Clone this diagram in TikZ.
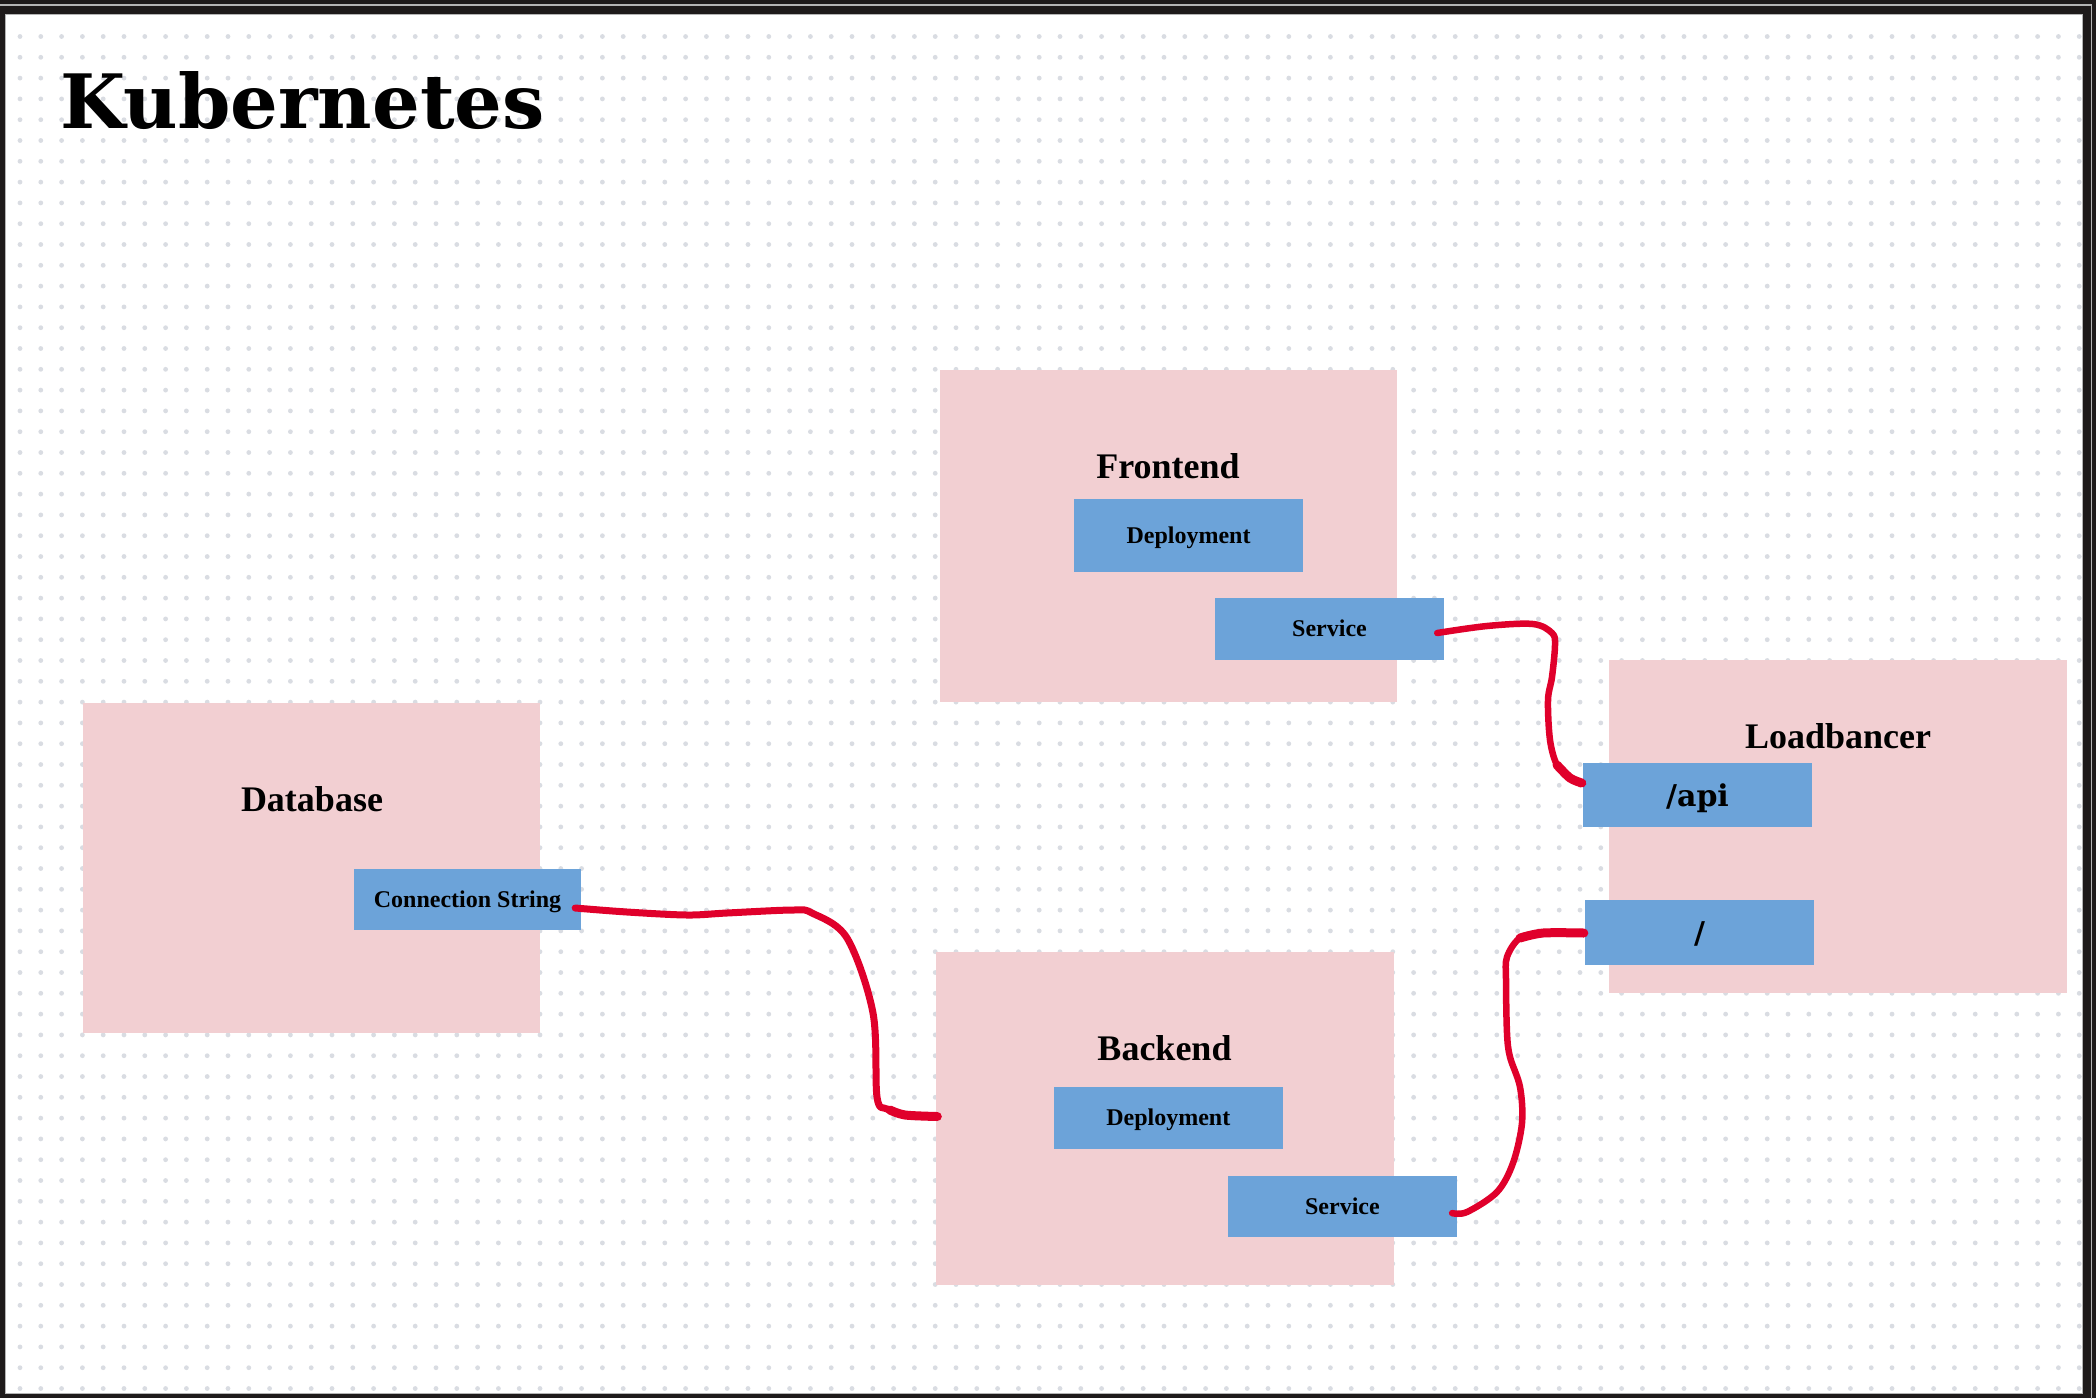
\documentclass[tikz,border=0pt]{standalone}
\usepackage{fontspec}
\setmainfont{Liberation Serif}
\newfontfamily\titlefont{DejaVu Serif}
\usetikzlibrary{calc}
\definecolor{pinkbox}{HTML}{F2CFD2}
\definecolor{bluebox}{HTML}{6CA3D9}
\definecolor{wire}{HTML}{E0002B}
\definecolor{dotc}{HTML}{D9DCE2}
\definecolor{framedark}{HTML}{1E1A1A}
\definecolor{frameline}{HTML}{B4B4B4}
\begin{document}
\begin{tikzpicture}[x=1pt,y=-1pt,
  group/.style={fill=pinkbox, draw=none, inner sep=0pt, minimum width=457pt, minimum height=332pt},
  part/.style={fill=bluebox, draw=none, inner sep=0pt, minimum width=229pt, minimum height=62pt,
    text height=15.9pt, text depth=0pt, font=\fontsize{24}{28}\selectfont\bfseries},
  route/.style={fill=bluebox, draw=none, inner sep=0pt, minimum width=229pt, minimum height=64pt,
    text height=22pt, text depth=0pt, font=\titlefont\fontsize{30}{34}\selectfont\bfseries},
  grouplabel/.style={font=\fontsize{36}{40}\selectfont\bfseries, inner sep=0pt, anchor=base},
  wirestyle/.style={draw=wire, line width=6.5pt, line cap=round, line join=round},
  wireend/.style={draw=wire, line width=9pt, line cap=round, line join=round},
]
\useasboundingbox (0,0) rectangle (2096,1398);
% frame
\fill[framedark] (0,0) rectangle (2096,1398);
\draw[frameline, line width=1.5pt] (-5,5) -- (2091.5,5) -- (2091.5,1405);
\fill[white] (6,15) rectangle (2082,1393);
\draw[frameline, line width=1.2pt] (5.5,14.5) rectangle (2082.5,1393.5);
% dotted grid
\begin{scope}
  \clip (6,15) rectangle (2082,1393);
  \foreach \i in {0,...,99} {
    \foreach \j in {0,...,65} {
      \fill[dotc] (20+20.8*\i, 36.5+20.8*\j) circle[radius=2.4];
    }
  }
\end{scope}
% title
\node[anchor=base west, inner sep=0pt, font=\titlefont\fontsize{75}{80}\selectfont\bfseries] (title) at (60,128) {Kubernetes};
% groups
\node[group, minimum height=332pt] (fe) at (1168.5,536) {};
\node[group, minimum width=458pt, minimum height=333pt] (lb) at (1838,826.5) {};
\node[group, minimum height=330pt] (db) at (311.5,868) {};
\node[group, minimum width=458pt, minimum height=333pt] (be) at (1164.5,1118) {};
% group labels
\node[grouplabel] (felabel) at (1168,478) {Frontend};
\node[grouplabel] (lblabel) at (1838,748) {Loadbancer};
\node[grouplabel] (dblabel) at (312,811) {Database};
\node[grouplabel] (belabel) at (1164.5,1060.5) {Backend};
% parts
\node[part, minimum height=73pt] (fd) at (1188.5,535.5) {Deployment};
\node[part] (fs) at (1329.5,629) {Service};
\node[part, minimum width=227pt, minimum height=61pt] (cs) at (467.5,899.5) {Connection String};
\node[part, minimum height=62pt] (bd) at (1168.3,1118) {Deployment};
\node[part, minimum height=61pt] (bs) at (1342.4,1206.6) {Service};
\node[route] (api) at (1697.5,795) {/api};
\node[route, minimum height=65pt] (root) at (1699.5,932.5) {/};
% connectors
\draw[wirestyle, line width=7pt] plot[smooth, tension=0.55] coordinates {
  ($(cs.east)+(-6,8.5)$) (627,912) (687,915) (727,913) (793,910) (812,913)
  (847,938) (873,1013) (877,1097) (887,1109) (905,1115) ($(be.west)+(2,-1.5)$)};
\draw[wireend] plot[smooth, tension=0.5] coordinates {
  (890,1110) (905,1115) ($(be.west)+(2,-1.5)$)};
\draw[wirestyle] plot[smooth, tension=0.55] coordinates {
  ($(fs.east)+(-7,4)$) (1487,626) (1533,624) (1552,633) (1555,645) (1552,677)
  (1548,700) (1550,740) (1557,765) (1570,778) ($(api.west)+(-1,-12)$)};
\draw[wireend] plot[smooth, tension=0.5] coordinates {
  (1557,765) (1570,778) ($(api.west)+(-1,-12)$)};
\draw[wirestyle] plot[smooth, tension=0.55] coordinates {
  ($(bs.east)+(-5,6.5)$) (1467,1212) (1497,1192) (1513,1163) (1522,1123) (1520,1087)
  (1510,1057) (1507,1033) (1506,980) (1507,957) (1520,938) (1543,933) ($(root.west)+(-1,0.5)$)};
\draw[wireend] plot[smooth, tension=0.5] coordinates {
  (1520,938) (1543,933) ($(root.west)+(-1,0.5)$)};
\end{tikzpicture}
\end{document}
